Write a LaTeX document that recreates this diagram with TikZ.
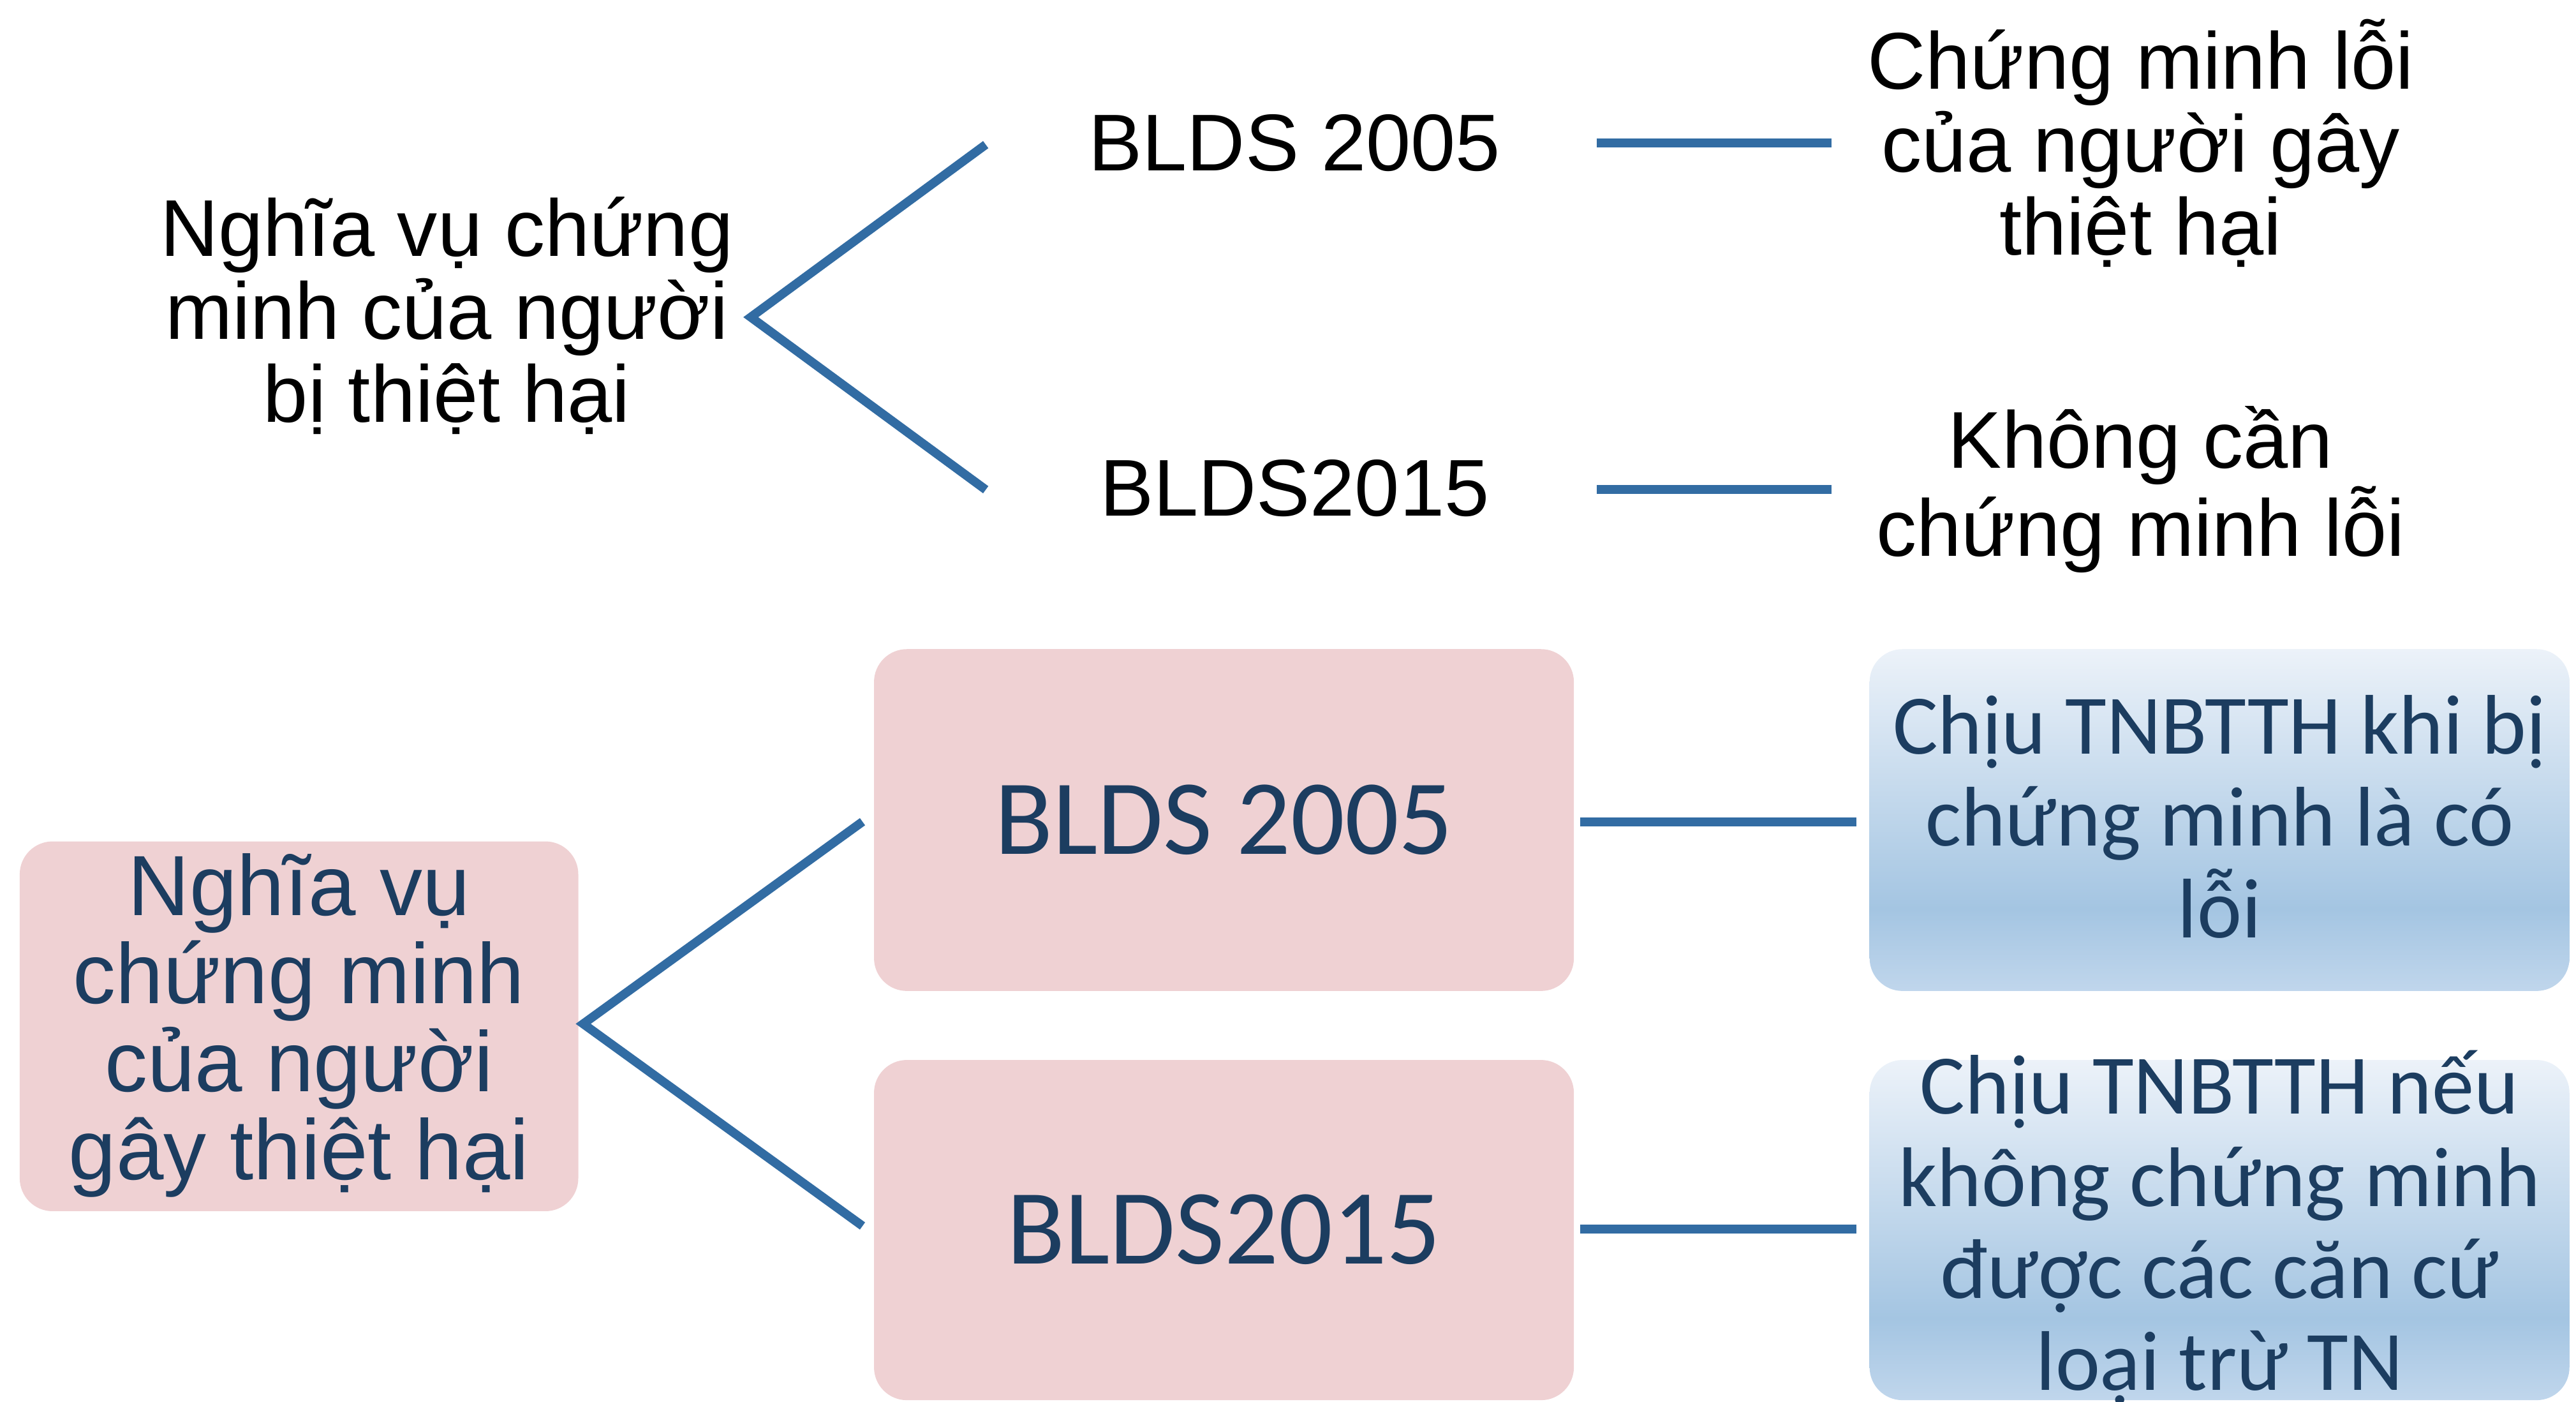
\documentclass[tikz,border=0pt]{standalone}
\usepackage{fontspec}
\setmainfont{Liberation Sans}
\newfontfamily\calfont{Carlito}
\definecolor{linecol}{RGB}{50,108,163}
\definecolor{pinkfill}{RGB}{239,209,211}
\definecolor{txtblue}{RGB}{28,61,96}
\definecolor{bT}{RGB}{236,242,249}
\definecolor{bM}{RGB}{164,197,226}
\definecolor{bB}{RGB}{192,214,236}
\pgfdeclareverticalshading{bluegrad}{100bp}{color(0bp)=(bB); color(25bp)=(bB); color(37bp)=(bM); color(75bp)=(bT); color(100bp)=(bT)}
\begin{document}
\begin{tikzpicture}[x=1pt,y=-1pt,
  plain/.style={align=center,inner sep=0pt,font=\fontsize{49}{50.5}\selectfont},
  conn/.style={draw=linecol,line width=5.4pt},
  pinkbox/.style={fill=pinkfill,rounded corners=20pt,draw=none},
  bluebox/.style={shading=bluegrad,rounded corners=20pt,draw=none}]
\useasboundingbox (0,0) rectangle (1568,853);
\clip (0,0) rectangle (1568,853);
% ---------- top part ----------
\node[plain] (t0) at (272,192) {Nghĩa vụ chứng\\minh của người\\bị thiệt hại};
\node[plain] (t1) at (788,87) {BLDS 2005};
\node[plain] (t2) at (788,297) {BLDS2015};
\node[plain] (t3) at (1303,87) {Chứng minh lỗi\\của người gây\\thiệt hại};
\node[plain] (t4) at (1303,298) {Không cần\\chứng minh lỗi};
\coordinate (tv) at (457,193);
\coordinate (ta1) at (600,88);
\coordinate (ta2) at (600,298);
\coordinate (tb1s) at (972,87);
\coordinate (tb1e) at (1115,87);
\coordinate (tb2s) at (972,298);
\coordinate (tb2e) at (1115,298);
\draw[conn] (ta1) -- (tv) -- (ta2);
\draw[conn] (tb1s) -- (tb1e);
\draw[conn] (tb2s) -- (tb2e);
% ---------- bottom part ----------
\path[pinkbox] (12,512) rectangle (352,737);
\node[align=center,inner sep=0pt,text=txtblue,font=\fontsize{52}{53.5}\selectfont] (b0) at (182,624) {Nghĩa vụ\\chứng minh\\của người\\gây thiệt hại};
\path[pinkbox] (532,395) rectangle (958,603);
\node[inner sep=0pt,text=txtblue,font=\calfont\fontsize{65}{66}\selectfont] (b1) at (745,499) {BLDS 2005};
\path[pinkbox] (532,645) rectangle (958,852);
\node[inner sep=0pt,text=txtblue,font=\calfont\fontsize{65}{66}\selectfont] (b2) at (745,748) {BLDS2015};
\path[bluebox] (1138,395) rectangle (1564,603);
\node[align=center,inner sep=0pt,text=txtblue,font=\calfont\fontsize{51.5}{56}\selectfont] (b3) at (1351,497) {Chịu TNBTTH khi bị\\chứng minh là có\\lỗi};
\path[bluebox] (1138,645) rectangle (1564,852);
\node[align=center,inner sep=0pt,text=txtblue,font=\calfont\fontsize{51.5}{56}\selectfont] (b4) at (1351,747) {Chịu TNBTTH nếu\\không chứng minh\\được các căn cứ\\loại trừ TN};
\coordinate (bv) at (355,623);
\coordinate (ba1) at (525,500);
\coordinate (ba2) at (525,746);
\coordinate (bb1s) at (962,500);
\coordinate (bb1e) at (1130,500);
\coordinate (bb2s) at (962,748);
\coordinate (bb2e) at (1130,748);
\draw[conn] (ba1) -- (bv) -- (ba2);
\draw[conn] (bb1s) -- (bb1e);
\draw[conn] (bb2s) -- (bb2e);
\end{tikzpicture}
\end{document}
